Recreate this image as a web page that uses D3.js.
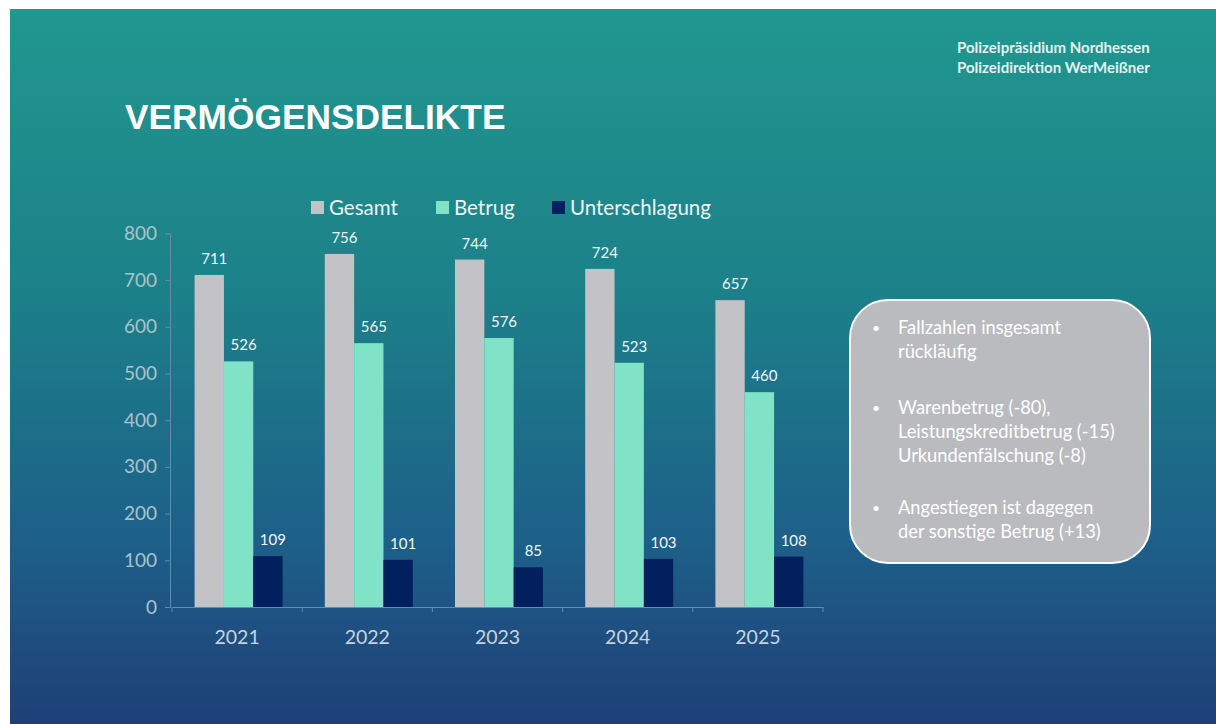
<!DOCTYPE html>
<html>
<head>
<meta charset="utf-8">
<script src="https://cdn.jsdelivr.net/npm/d3@7"></script>
<style>
  html, body { margin: 0; padding: 0; background: #fff; }
  svg { display: block; }
</style>
</head>
<body>
<svg></svg>
<script>
var w = 1216;
var h = 724;

var years = ["2021", "2022", "2023", "2024", "2025"];
var seriesNames = ["Gesamt", "Betrug", "Unterschlagung"];
var gesamt = [711, 756, 744, 724, 657];
var betrug = [526, 565, 576, 523, 460];
var unterschlagung = [109, 101, 85, 103, 108];
var yTicks = [0, 100, 200, 300, 400, 500, 600, 700, 800];
var notes = [
  ["Fallzahlen insgesamt", "rückläufig"],
  ["Warenbetrug (-80),", "Leistungskreditbetrug (-15)", "Urkundenfälschung (-8)"],
  ["Angestiegen ist dagegen", "der sonstige Betrug (+13)"]
];

const colors = ["#c3c3c7", "#80e3c8", "#02205e"];
var values = [gesamt, betrug, unterschlagung];

var svg = d3.select("svg").attr("width", w).attr("height", h);

// slide background
var grad = svg.append("defs").append("linearGradient")
  .attr("id", "bg").attr("x1", 0).attr("y1", 0).attr("x2", 0).attr("y2", 1);
grad.append("stop").attr("offset", "0%").attr("stop-color", "#21978f");
grad.append("stop").attr("offset", "40%").attr("stop-color", "#1c8089");
grad.append("stop").attr("offset", "75%").attr("stop-color", "#1d5f89");
grad.append("stop").attr("offset", "100%").attr("stop-color", "#1f3f78");

svg.append("rect")
  .attr("x", 10).attr("y", 9)
  .attr("width", w - 10).attr("height", h - 9)
  .style("fill", "url(#bg)");

svg.append("text")
  .attr("x", 125).attr("y", 129)
  .text("VERMÖGENSDELIKTE")
  .attr("font-family", "Liberation Sans, Arial")
  .attr("font-weight", "bold")
  .attr("font-size", 35.3)
  .style("fill", "#fff");

svg.selectAll(".hdr")
  .data(["Polizeipräsidium Nordhessen", "Polizeidirektion WerMeißner"])
  .enter()
  .append("text")
  .attr("class", "hdr")
  .attr("x", 957)
  .attr("y", (d, i) => 53 + i * 20)
  .text((d) => d)
  .attr("font-family", "Lato, Open Sans")
  .attr("font-weight", "bold")
  .attr("font-size", 15)
  .style("fill", "#e3f1ef");

// chart
var x0 = d3.scaleBand().domain(years).range([172, 823]);
var x1 = d3.scaleBand().domain(seriesNames).range([0, 88]);
var y = d3.scaleLinear().domain([0, 800]).range([607, 233.4]);

var yAxis = svg.append("g")
  .attr("transform", "translate(170,0)")
  .call(d3.axisLeft(y).tickValues(yTicks).tickSize(5).tickPadding(8));
yAxis.select(".domain").attr("stroke", "#5f8ea6");
yAxis.selectAll(".tick line").attr("stroke", "#5f8ea6");
yAxis.selectAll("text")
  .attr("font-family", "Lato, Open Sans")
  .attr("font-size", 19)
  .style("fill", "#a9c3cc");

var xAxis = svg.append("g")
  .attr("transform", "translate(0,607)")
  .call(d3.axisBottom(x0).tickSizeOuter(0).tickSize(0).tickPadding(23));
xAxis.select(".domain").attr("stroke", "#5f8ea6");
xAxis.selectAll("text")
  .attr("font-family", "Lato, Open Sans")
  .attr("font-size", 19.5)
  .style("fill", "#c8d4dc");
xAxis.selectAll(".sep")
  .data(d3.range(years.length + 1))
  .enter()
  .append("line")
  .attr("x1", (d) => x0.range()[0] + d * x0.step())
  .attr("x2", (d) => x0.range()[0] + d * x0.step())
  .attr("y1", 0).attr("y2", 5)
  .attr("stroke", "#5f8ea6");

var groups = svg.selectAll(".grp")
  .data(years)
  .enter()
  .append("g")
  .attr("transform", (d) => "translate(" + (x0(d) + (x0.bandwidth() - 88) / 2 + 1.5) + ",0)");

groups.selectAll("rect")
  .data((d, i) => seriesNames.map((s, j) => ({ s: s, v: values[j][i] })))
  .enter()
  .append("rect")
  .attr("x", (d) => x1(d.s))
  .attr("width", x1.bandwidth())
  .attr("y", (d) => y(d.v))
  .attr("height", (d) => y(0) - y(d.v))
  .style("fill", (d, j) => colors[j]);

groups.selectAll(".lbl")
  .data((d, i) => seriesNames.map((s, j) => ({ s: s, v: values[j][i] })))
  .enter()
  .append("text")
  .attr("class", "lbl")
  .attr("x", (d) => x1(d.s) + x1.bandwidth() / 2 + 5)
  .attr("y", (d) => y(d.v) - 11)
  .attr("text-anchor", "middle")
  .text((d) => d.v)
  .attr("font-family", "Lato, Open Sans")
  .attr("font-size", 15)
  .style("fill", "#f2f6f7");

// legend
var legendX = [311, 436, 552];
var legend = svg.selectAll(".leg")
  .data(seriesNames)
  .enter()
  .append("g")
  .attr("transform", (d, i) => "translate(" + legendX[i] + ",201)");
legend.append("rect")
  .attr("width", 13).attr("height", 13)
  .style("fill", (d, i) => colors[i]);
legend.append("text")
  .attr("x", 18).attr("y", 7)
  .attr("dy", ".35em")
  .text((d) => d)
  .attr("font-family", "Lato, Open Sans")
  .attr("font-size", 20.5)
  .style("fill", "#eef4f5");

// note box
svg.append("rect")
  .attr("x", 850).attr("y", 300)
  .attr("width", 300).attr("height", 263)
  .attr("rx", 38)
  .style("fill", "#b9bbbf")
  .style("stroke", "#fff")
  .style("stroke-width", 2);

var lineY = [[334, 358], [414, 438, 462], [514, 538]];
notes.forEach((block, bi) => {
  svg.append("text")
    .attr("x", 872).attr("y", lineY[bi][0] - 1)
    .text("•")
    .attr("font-family", "Lato, Open Sans")
    .attr("font-size", 14)
    .style("fill", "#fff");
  svg.selectAll(".note" + bi)
    .data(block)
    .enter()
    .append("text")
    .attr("x", 898)
    .attr("y", (d, i) => lineY[bi][i])
    .text((d) => d)
    .attr("font-family", "Lato, Open Sans")
    .attr("font-size", 18.3)
    .style("fill", "#fff");
});
</script>
</body>
</html>
